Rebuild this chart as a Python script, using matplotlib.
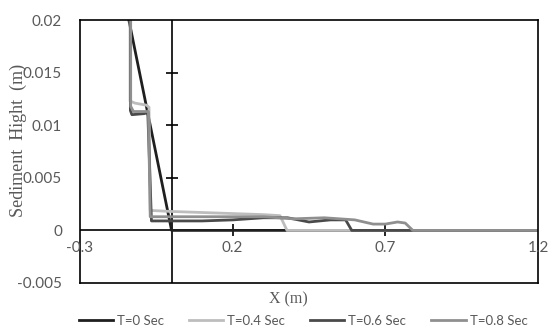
import matplotlib
matplotlib.use("Agg")
import matplotlib.pyplot as plt

# Dados
x_t0 = [-0.14, 0.0, 1.2]
y_t0 = [0.02, 0.0, 0.0]

x_t04 = [-0.136, -0.136, -0.12, -0.082, -0.074, -0.07, 0.0, 0.1, 0.2, 0.3, 0.355, 0.378, 1.2]
y_t04 = [0.02, 0.0123, 0.0121, 0.0119, 0.0117, 0.0019, 0.0018, 0.0017, 0.0016, 0.0015, 0.0014, 0.0, 0.0]

x_t06 = [-0.135, -0.135, -0.13, -0.09, -0.078, -0.066, 0.0, 0.1, 0.2, 0.3, 0.38, 0.45, 0.52, 0.57, 0.59, 1.2]
y_t06 = [0.02, 0.0114, 0.011, 0.0111, 0.0112, 0.0009, 0.0009, 0.0009, 0.001, 0.0012, 0.0012, 0.0008, 0.001, 0.001, 0.0, 0.0]

x_t08 = [-0.134, -0.134, -0.125, -0.085, -0.076, -0.07, 0.0, 0.1, 0.2, 0.3, 0.4, 0.5, 0.6, 0.66, 0.7, 0.74, 0.765, 0.79, 1.2]
y_t08 = [0.02, 0.0118, 0.0113, 0.0113, 0.0113, 0.0013, 0.0013, 0.0013, 0.0013, 0.0013, 0.0011, 0.0012, 0.001, 0.0006, 0.0006, 0.0008, 0.0007, 0.0, 0.0]

series = [
    (x_t0, y_t0, "T=0 Sec", "#1f1f1f"),
    (x_t04, y_t04, "T=0.4 Sec", "#bdbdbd"),
    (x_t06, y_t06, "T=0.6 Sec", "#4a4a4a"),
    (x_t08, y_t08, "T=0.8 Sec", "#8f8f8f"),
]

x_ticks = [-0.3, 0.2, 0.7, 1.2]
x_labels = ["-0.3", "0.2", "0.7", "1.2"]
y_ticks = [-0.005, 0, 0.005, 0.01, 0.015, 0.02]
y_labels = ["-0.005", "0", "0.005", "0.01", "0.015", "0.02"]

W, H = 550, 329
fig = plt.figure(figsize=(5.5, 3.29), dpi=100)
ax = fig.add_axes([80 / W, 1 - 283 / H, (538 - 80) / W, (283 - 20) / H])

for xs, ys, lab, cor in series:
    ax.plot(xs, ys, color=cor, lw=2, label=lab, solid_joinstyle="round")

ax.set_xlim(-0.3, 1.2)
ax.set_ylim(-0.005, 0.02)

# Eixos cruzando em zero
ax.axhline(0, color="black", lw=1.2, zorder=1)
ax.axvline(0, color="black", lw=1.2, zorder=1)
ax.plot(x_ticks[1:3], [0, 0], ls="none", marker="|", ms=9, mew=1.2, color="black", zorder=1)
ax.plot([0, 0, 0], y_ticks[2:5], ls="none", marker="_", ms=9, mew=1.2, color="black", zorder=1)

for s in ax.spines.values():
    s.set_color("black")
    s.set_linewidth(1.2)

ax.set_xticks([])
ax.set_yticks(y_ticks)
ax.set_yticklabels(y_labels, fontname="Lato", fontsize=11, color="#595959")
ax.tick_params(axis="y", length=0, pad=13)

for xv, lab in zip(x_ticks, x_labels):
    ax.annotate(lab, (xv, 0), xytext=(0, -11), textcoords="offset pixels",
                ha="center", va="top", fontname="Lato", fontsize=11, color="#595959")

fig.text(18 / W, 1 - 140 / H, "Sediment  Hight  (m)", rotation=90, ha="center", va="center",
         fontname="Liberation Serif", fontsize=13, color="#595959")
fig.text(288 / W, 1 - 299 / H, "X (m)", ha="center", va="center",
         fontname="Liberation Serif", fontsize=11.5, color="#595959")

fig.legend(loc="center", bbox_to_anchor=(303 / W, 1 - 321 / H), ncol=4, frameon=False,
           handlelength=2.6, columnspacing=1.9, handletextpad=0.3,
           prop={"family": "Lato", "size": 9.5}, labelcolor="#595959")

fig.savefig("out.png", dpi=100)
